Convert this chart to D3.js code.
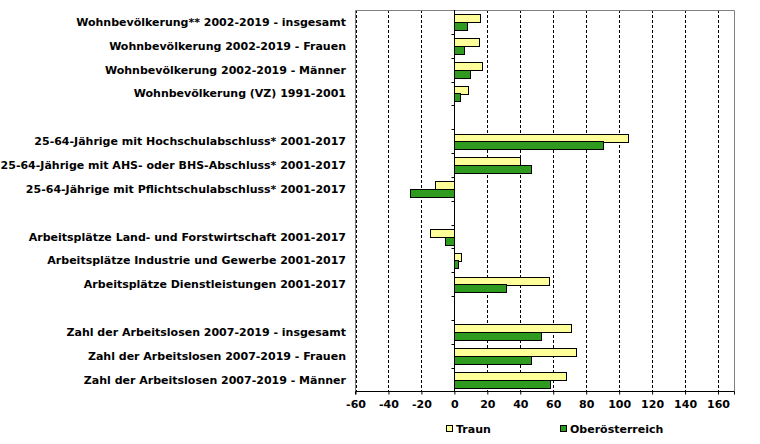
<!DOCTYPE html>
<html>
<head>
<meta charset="utf-8">
<script src="https://cdn.jsdelivr.net/npm/d3@7/dist/d3.min.js"></script>
<style>
  body { margin: 0; background: #fff; }
  svg text { font-family: Verdana, "DejaVu Sans", sans-serif; font-weight: bold; font-size: 11px; fill: #000; }
</style>
</head>
<body>
<svg id="chart" width="760" height="444"></svg>
<script>
// categories, top to bottom (blank strings = empty spacer rows)
var categories = [
    "Wohnbevölkerung** 2002-2019 - insgesamt",
    "Wohnbevölkerung 2002-2019 - Frauen",
    "Wohnbevölkerung 2002-2019 - Männer",
    "Wohnbevölkerung (VZ) 1991-2001",
    "",
    "25-64-Jährige mit Hochschulabschluss* 2001-2017",
    "25-64-Jährige mit AHS- oder BHS-Abschluss* 2001-2017",
    "25-64-Jährige mit Pflichtschulabschluss* 2001-2017",
    " ",
    "Arbeitsplätze Land- und Forstwirtschaft 2001-2017",
    "Arbeitsplätze Industrie und Gewerbe 2001-2017",
    "Arbeitsplätze Dienstleistungen 2001-2017",
    "  ",
    "Zahl der Arbeitslosen 2007-2019 - insgesamt",
    "Zahl der Arbeitslosen 2007-2019 - Frauen",
    "Zahl der Arbeitslosen 2007-2019 - Männer"
];
var traun =           [15.8, 15.2, 17.0, 8.5, null, 105.5, 40.0, -11.5, null, -14.5, 4.2, 57.6, null, 70.9, 73.9, 67.9];
var oberoesterreich = [7.9, 6.1, 9.7, 3.6, null, 90.5, 46.7, -26.7, null, -5.5, 2.4, 31.5, null, 52.7, 46.7, 58.2];
var seriesNames = ["Traun", "Oberösterreich"];
var seriesColors = ["#ffff99", "#2e9a1e"];
var xTicks = [-60, -40, -20, 0, 20, 40, 60, 80, 100, 120, 140, 160];

var plotL = 355.5, plotR = 734.5, plotT = 10, plotB = 391.5;
var svg = d3.select("#chart");

var x = d3.scaleLinear().domain([-60, 170]).range([plotL, plotR]);
var y = d3.scaleBand().domain(categories).range([plotT, plotB]).paddingInner(0.37).paddingOuter(0.185);
var ySlot = d3.scaleBand().domain(categories).range([plotT, plotB]);
var ySub = d3.scaleBand().domain(seriesNames).range([0, y.bandwidth()]);

// dashed grid lines
svg.append("g").selectAll("line")
    .data(xTicks.filter(function(d) { return d !== 0; }))
    .enter().append("line")
    .attr("x1", function(d) { return Math.round(x(d)) + 0.5; })
    .attr("x2", function(d) { return Math.round(x(d)) + 0.5; })
    .attr("y1", plotT).attr("y2", plotB)
    .attr("stroke", "#000").attr("stroke-dasharray", "3,2");

// plot border (gray)
svg.append("path")
    .attr("d", "M" + plotL + "," + plotB + "V" + (plotT + 0.5) + "H" + plotR + "V" + plotB)
    .attr("fill", "none").attr("stroke", "#808080");

// bars
[traun, oberoesterreich].forEach(function(values, s) {
    svg.append("g").selectAll("rect")
        .data(values.map(function(v, i) { return { cat: categories[i], v: v }; })
                    .filter(function(d) { return d.v !== null; }))
        .enter().append("rect")
        .attr("x", function(d) { return Math.round(x(Math.min(0, d.v))) + 0.5; })
        .attr("width", function(d) { return Math.abs(Math.round(x(d.v)) - Math.round(x(0))); })
        .attr("y", function(d) { return Math.round(y(d.cat) + ySub(seriesNames[s])) + 0.5; })
        .attr("height", Math.round(ySub.bandwidth()))
        .attr("fill", seriesColors[s])
        .attr("stroke", "#000").attr("stroke-width", 1);
});

// zero axis with small category ticks
var zx = Math.round(x(0)) + 0.5;
svg.append("line").attr("x1", zx).attr("x2", zx).attr("y1", plotT).attr("y2", plotB).attr("stroke", "#000");
svg.append("g").selectAll("line")
    .data(categories.slice(1))
    .enter().append("line")
    .attr("x1", zx - 3).attr("x2", zx)
    .attr("y1", function(d) { return Math.round(ySlot(d)) + 0.5; })
    .attr("y2", function(d) { return Math.round(ySlot(d)) + 0.5; })
    .attr("stroke", "#000");

// category labels
svg.append("g").selectAll("text")
    .data(categories.filter(function(d) { return d.trim() !== ""; }))
    .enter().append("text")
    .attr("x", 346)
    .attr("y", function(d) { return ySlot(d) + ySlot.bandwidth() / 2 + 4; })
    .attr("text-anchor", "end")
    .text(function(d) { return d; });

// bottom axis
var xAxis = d3.axisBottom(x).tickValues(xTicks).tickSize(3).tickPadding(6)
    .tickFormat(function(d) { return String(d); });
var ax = svg.append("g").attr("transform", "translate(0," + plotB + ")").call(xAxis);
ax.select(".domain").attr("d", "M" + plotL + ",3V0H" + plotR + "V3").attr("stroke", "#000");
ax.selectAll(".tick line").attr("stroke", "#000");
ax.attr("font-family", null).attr("font-size", null);

// legend
var legendX = [446, 560];
var lg = svg.append("g").selectAll("g").data(seriesNames).enter().append("g")
    .attr("transform", function(d, i) { return "translate(" + legendX[i] + ",425)"; });
lg.append("rect").attr("x", 0.5).attr("y", 0.5).attr("width", 6).attr("height", 6)
    .attr("fill", function(d, i) { return seriesColors[i]; }).attr("stroke", "#000");
lg.append("text").attr("x", 10).attr("y", 8).text(function(d) { return d; });
</script>
</body>
</html>
